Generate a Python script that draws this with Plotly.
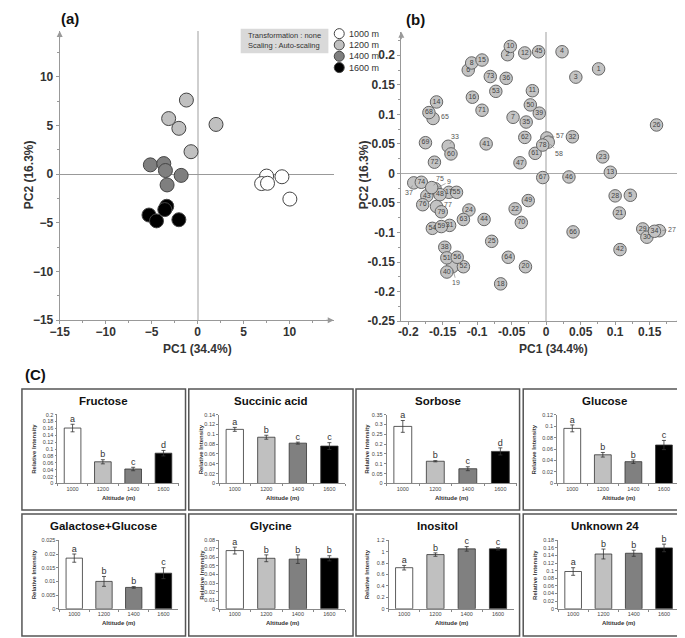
import plotly.graph_objects as go

W, H = 685, 638
FONT = "Arial, Liberation Sans, sans-serif"

# ---------------- (a) PCA score plot ----------------
groups = ["1000 m", "1200 m", "1400 m", "1600 m"]
score_pc1_1000 = [7.5, 9.17, 6.96, 7.6, 10.03]
score_pc2_1000 = [-0.2, -0.27, -0.97, -0.94, -2.56]
score_pc1_1200 = [-1.22, -3.15, -2.04, 2.0, -0.72]
score_pc2_1200 = [7.6, 5.7, 4.7, 5.1, 2.3]
score_pc1_1400 = [-5.14, -3.68, -3.5, -1.79, -3.32]
score_pc2_1400 = [0.95, 1.08, 0.37, -0.13, -1.11]
score_pc1_1600 = [-5.29, -4.47, -3.36, -3.57, -2.04]
score_pc2_1600 = [-4.2, -4.8, -3.3, -3.64, -4.68]
group_colors = ["#ffffff", "#c0c0c0", "#7f7f7f", "#000000"]

# ---------------- (b) loading plot ----------------
loading_ids = [1, 2, 3, 4, 5, 6, 7, 8, 9, 10, 11, 12, 13, 14, 15, 16, 17, 18, 19, 20,
               21, 22, 23, 24, 25, 26, 27, 28, 29, 30, 31, 32, 33, 34, 35, 36, 37, 38, 39, 40,
               41, 42, 43, 44, 45, 46, 47, 48, 49, 50, 51, 52, 53, 54, 55, 56, 57, 58, 59, 60,
               61, 62, 63, 64, 65, 66, 67, 68, 69, 70, 71, 72, 73, 74, 75, 76, 77, 78, 79]
loading_pc1 = [0.076, -0.056, 0.043, 0.023, 0.122, -0.113, -0.048, -0.108, -0.161, -0.052,
               -0.020, -0.031, 0.093, -0.159, -0.093, -0.107, -0.141, -0.066, -0.136, -0.030,
               0.106, -0.045, 0.082, -0.112, -0.079, 0.160, 0.164, 0.100, 0.140, 0.146,
               -0.140, 0.038, -0.142, 0.157, -0.029, -0.058, -0.192, -0.147, -0.010, -0.144,
               -0.087, 0.107, -0.173, -0.090, -0.011, 0.033, -0.038, -0.154, -0.026, -0.023,
               -0.144, -0.120, -0.073, -0.165, -0.130, -0.129, 0.001, 0.003, -0.152, -0.138,
               -0.016, -0.031, -0.120, -0.055, -0.164, 0.039, -0.005, -0.170, -0.175, -0.036,
               -0.093, -0.162, -0.081, -0.181, -0.166, -0.179, -0.159, -0.005, -0.152]
loading_pc2 = [0.177, 0.201, 0.163, 0.206, -0.037, 0.175, 0.095, 0.187, -0.026, 0.215,
               0.140, 0.204, 0.002, 0.121, 0.192, 0.129, -0.032, -0.187, -0.158, -0.158,
               -0.067, -0.060, 0.028, -0.062, -0.115, 0.082, -0.097, -0.038, -0.094, -0.108,
               -0.088, 0.062, 0.046, -0.098, 0.087, 0.161, -0.016, -0.125, 0.102, -0.167,
               0.050, -0.129, -0.038, -0.078, 0.206, -0.006, 0.018, -0.036, -0.046, 0.116,
               -0.143, -0.158, 0.139, -0.093, -0.032, -0.142, 0.060, 0.053, -0.090, 0.033,
               0.034, 0.061, -0.078, -0.142, 0.093, -0.099, -0.007, 0.103, 0.052, -0.083,
               0.107, 0.019, 0.164, -0.015, -0.024, -0.053, -0.056, 0.048, -0.065]
# ids whose number is written outside the marker: (id, dx px, dy px, draw leader line)
outside_labels = [(65, 12, -2, False), (33, 7, -10, True), (57, 13, -2, True),
                  (58, 11, 11, True), (27, 13, -1, True), (37, -5, 10, True),
                  (75, 8, -9, True), (9, 14, -7, True), (77, 11, -2, True), (19, 4, 16, True)]

# ---------------- (C) bar charts ----------------
altitude_labels = ["1000", "1200", "1400", "1600"]
bar_colors = ["#ffffff", "#c0c0c0", "#808080", "#000000"]
metabolites = ["Fructose", "Succinic acid", "Sorbose", "Glucose",
               "Galactose+Glucose", "Glycine", "Inositol", "Unknown 24"]
fructose_mean = [0.161, 0.063, 0.042, 0.088]
fructose_err = [0.011, 0.006, 0.005, 0.008]
fructose_letters = ["a", "b", "c", "d"]
succinic_mean = [0.110, 0.094, 0.082, 0.076]
succinic_err = [0.004, 0.004, 0.002, 0.007]
succinic_letters = ["a", "b", "c", "c"]
sorbose_mean = [0.290, 0.113, 0.075, 0.163]
sorbose_err = [0.030, 0.003, 0.010, 0.018]
sorbose_letters = ["a", "b", "c", "d"]
glucose_mean = [0.096, 0.050, 0.038, 0.067]
glucose_err = [0.006, 0.004, 0.003, 0.008]
glucose_letters = ["a", "b", "b", "c"]
galglc_mean = [0.0185, 0.0100, 0.0078, 0.0130]
galglc_err = [0.0015, 0.0018, 0.0003, 0.0020]
galglc_letters = ["a", "b", "b", "c"]
glycine_mean = [0.068, 0.059, 0.058, 0.059]
glycine_err = [0.004, 0.004, 0.005, 0.003]
glycine_letters = ["a", "b", "b", "b"]
inositol_mean = [0.72, 0.95, 1.05, 1.05]
inositol_err = [0.04, 0.03, 0.04, 0.02]
inositol_letters = ["a", "b", "c", "c"]
unknown24_mean = [0.098, 0.144, 0.146, 0.160]
unknown24_err = [0.010, 0.013, 0.008, 0.010]
unknown24_letters = ["a", "b", "b", "b"]
bar_axis_max = [0.2, 0.14, 0.35, 0.12, 0.025, 0.08, 1.2, 0.18]
bar_axis_step = [0.02, 0.02, 0.05, 0.02, 0.005, 0.01, 0.2, 0.02]

bar_means = [fructose_mean, succinic_mean, sorbose_mean, glucose_mean,
             galglc_mean, glycine_mean, inositol_mean, unknown24_mean]
bar_errs = [fructose_err, succinic_err, sorbose_err, glucose_err,
            galglc_err, glycine_err, inositol_err, unknown24_err]
bar_letters = [fructose_letters, succinic_letters, sorbose_letters, glucose_letters,
               galglc_letters, glycine_letters, inositol_letters, unknown24_letters]


def xd(l, r):
    return [l / W, r / W]


def yd(top, bottom):
    return [1 - bottom / H, 1 - top / H]


def fx(p):
    return p / W


def fy(p):
    return 1 - p / H


fig = go.Figure()
ann = []
shapes = []
AX_COL = "#999999"
TICKFONT = dict(family=FONT, size=12, color="#333333", weight="bold")


def paper_text(x, y, text, size, color="#333333", angle=0, xanchor="center"):
    ann.append(dict(x=fx(x), y=fy(y), xref="paper", yref="paper", text=text,
                    textangle=angle, showarrow=False, xanchor=xanchor, yanchor="middle",
                    font=dict(family=FONT, size=size, color=color)))


# ---- (a) traces
score_x = [score_pc1_1000, score_pc1_1200, score_pc1_1400, score_pc1_1600]
score_y = [score_pc2_1000, score_pc2_1200, score_pc2_1400, score_pc2_1600]
for g, xs, ys, c in zip(groups, score_x, score_y, group_colors):
    fig.add_trace(go.Scatter(x=xs, y=ys, mode="markers", name=g, showlegend=False,
                             marker=dict(size=14, color=c, line=dict(color="#444444", width=1)),
                             xaxis="x", yaxis="y"))

# ---- (b) traces
outside_ids = [o[0] for o in outside_labels]
inside_text = ["" if i in outside_ids else str(i) for i in loading_ids]
fig.add_trace(go.Scatter(x=loading_pc1, y=loading_pc2, mode="markers+text", text=inside_text,
                         textposition="middle center", showlegend=False,
                         textfont=dict(family=FONT, size=7, color="#444444"),
                         marker=dict(size=12.5, color="#c3c3c3", line=dict(color="#666666", width=1)),
                         xaxis="x2", yaxis="y2"))
for (lid, dx, dy, line) in outside_labels:
    k = loading_ids.index(lid)
    ann.append(dict(x=loading_pc1[k], y=loading_pc2[k], xref="x2", yref="y2", text=str(lid),
                    showarrow=line, ax=dx, ay=dy, arrowhead=0, arrowwidth=0.6,
                    arrowcolor="#777777", standoff=3, xanchor="center", yanchor="middle",
                    xshift=0 if line else dx, yshift=0 if line else -dy,
                    font=dict(family=FONT, size=7, color="#555555")))

layout_axes = {}
# (a) axes
layout_axes["xaxis"] = dict(domain=xd(42.3, 320.4), range=[-15, 14.8], anchor="y",
                            showline=True, linecolor=AX_COL, linewidth=1, showgrid=False,
                            zeroline=True, zerolinecolor="#cfcfcf", zerolinewidth=2,
                            tickvals=[-15, -10, -5, 0, 5, 10], ticks="outside", ticklen=3,
                            tickcolor=AX_COL, tickfont=TICKFONT, ticklabelstandoff=-3,
                            minor=dict(ticks="outside", ticklen=2, dtick=2.5, tickcolor=AX_COL))
layout_axes["yaxis"] = dict(domain=yd(20.2, 314.2), range=[-15, 14.7], anchor="x",
                            showline=True, linecolor=AX_COL, linewidth=1, showgrid=False,
                            zeroline=True, zerolinecolor="#999999", zerolinewidth=1,
                            tickvals=[-15, -10, -5, 0, 5, 10], ticks="outside", ticklen=3,
                            tickcolor=AX_COL, tickfont=TICKFONT,
                            minor=dict(ticks="outside", ticklen=2, dtick=2.5, tickcolor=AX_COL))
# (b) axes
layout_axes["xaxis2"] = dict(domain=xd(389, 676), range=[-0.21, 0.2], anchor="y2",
                             showline=True, linecolor=AX_COL, linewidth=1, showgrid=False,
                             zeroline=True, zerolinecolor="#cfcfcf", zerolinewidth=2,
                             tickvals=[-0.2, -0.15, -0.1, -0.05, 0, 0.05, 0.1, 0.15],
                             ticktext=["-0.2", "-0.15", "-0.1", "-0.05", "0", "0.05", "0.1", "0.15"],
                             ticks="outside", ticklen=3, tickcolor=AX_COL, tickfont=TICKFONT,
                             ticklabelstandoff=-3,
                             minor=dict(ticks="outside", ticklen=2, dtick=0.025, tickcolor=AX_COL))
layout_axes["yaxis2"] = dict(domain=yd(21, 315), range=[-0.25, 0.24], anchor="x2",
                             showline=True, linecolor=AX_COL, linewidth=1, showgrid=False,
                             zeroline=True, zerolinecolor="#aaaaaa", zerolinewidth=1,
                             tickvals=[-0.25, -0.2, -0.15, -0.1, -0.05, 0, 0.05, 0.1, 0.15, 0.2],
                             ticktext=["-0.25", "-0.2", "-0.15", "-0.1", "-0.05", "0", "0.05", "0.1", "0.15", "0.2"],
                             ticks="outside", ticklen=3, tickcolor=AX_COL, tickfont=TICKFONT,
                             minor=dict(ticks="outside", ticklen=2, dtick=0.025, tickcolor=AX_COL))

# axis arrows
for xr, yr, xe, ye, axp, ayp in [("x", "y", 14.8, -15, -9, 0), ("x", "y", -15, 14.7, 0, 9),
                                 ("x2", "y2", 0.2, -0.25, -9, 0), ("x2", "y2", -0.21, 0.24, 0, 9)]:
    ann.append(dict(x=xe, y=ye, xref=xr, yref=yr, text="", showarrow=True, ax=axp, ay=ayp,
                    arrowhead=2, arrowsize=1.2, arrowwidth=1, arrowcolor=AX_COL))

# axis titles & panel labels
paper_text(12, 166, "<b>PC2 (16.3%)</b>", 12, angle=-90)
paper_text(352, 166, "<b>PC2 (16.3%)</b>", 12, angle=-90)
paper_text(182, 343, "<b>PC1 (34.4%)</b>", 12)
paper_text(543, 343, "<b>PC1 (34.4%)</b>", 12)
for t, px_, py_ in [("(a)", 53, 8), ("(b)", 403, 9), ("(C)", 18, 369)]:
    paper_text(px_, py_, "<b>%s</b>" % t, 15, color="#111111")

# (a) info box & legend
shapes.append(dict(type="rect", xref="paper", yref="paper", x0=fx(226), x1=fx(315),
                   y0=fy(43), y1=fy(18), fillcolor="#d9d9d9", line=dict(width=0), layer="below"))
paper_text(231, 25, "Transformation : none", 7.5, xanchor="left")
paper_text(231, 35.5, "Scaling : Auto-scaling", 7.5, xanchor="left")
for g, c, yy in zip(groups, group_colors, [23, 34.5, 46, 57.5]):
    shapes.append(dict(type="circle", xref="paper", yref="paper", xsizemode="pixel",
                       ysizemode="pixel", xanchor=fx(326), yanchor=fy(yy), x0=-5, x1=5, y0=-5, y1=5,
                       fillcolor=c, line=dict(color="#444444", width=1)))
    paper_text(334, yy, g, 9, xanchor="left")

# ---- (C) bar panels
box_x = [(4, 170), (173.3, 340), (343, 509), (512.7, 678)]
box_y = [(384, 507), (511, 635)]
plot_x = [(40, 163), (204, 332), (374, 506), (547, 671),
          (42, 162.7), (204, 332), (376, 503), (548, 671)]
plot_y = [(410, 480), (537.7, 607.3)]
ri_x = [16, 186, 354, 524]
title_y = [396, 523]
alt_y = [495, 621.7]

for p in range(8):
    row, col = p // 4, p % 4
    n = p + 3
    xa, ya = "x%d" % n, "y%d" % n
    means, errs, lets = bar_means[p], bar_errs[p], bar_letters[p]
    fig.add_trace(go.Bar(x=altitude_labels, y=means, width=0.55, showlegend=False,
                         marker=dict(color=bar_colors, line=dict(color="#333333", width=0.8)),
                         error_y=dict(type="data", array=errs, color="#333333", thickness=0.8, width=2),
                         xaxis=xa, yaxis=ya))
    tops = [m + e for m, e in zip(means, errs)]
    fig.add_trace(go.Scatter(x=altitude_labels, y=tops, mode="text", text=lets,
                             textposition="top center", showlegend=False, cliponaxis=False,
                             textfont=dict(family=FONT, size=9, color="#333333"),
                             xaxis=xa, yaxis=ya))
    l, r = plot_x[p]
    t, b = plot_y[row]
    layout_axes["xaxis%d" % n] = dict(domain=xd(l, r), anchor=ya, type="category",
                                      range=[-0.5, 3.5], showline=True, linecolor="#888888",
                                      linewidth=0.8, showgrid=False, zeroline=False,
                                      ticks="outside", ticklen=2, tickson="boundaries",
                                      tickcolor="#888888",
                                      tickfont=dict(family=FONT, size=5.5, color="#444444"))
    layout_axes["yaxis%d" % n] = dict(domain=yd(t, b), anchor=xa,
                                      range=[0, bar_axis_max[p] * 1.0005],
                                      dtick=bar_axis_step[p], tick0=0, showline=True,
                                      linecolor="#888888", linewidth=0.8, showgrid=False,
                                      zeroline=False, ticks="outside", ticklen=2,
                                      tickcolor="#888888",
                                      tickfont=dict(family=FONT, size=5.5, color="#444444"))
    bl, br = box_x[col]
    bt, bb = box_y[row]
    shapes.append(dict(type="rect", xref="paper", yref="paper", x0=fx(bl), x1=fx(br),
                       y0=fy(bb), y1=fy(bt), line=dict(color="#555555", width=1.5)))
    paper_text((bl + br) / 2, title_y[row], "<b>%s</b>" % metabolites[p], 11.5, color="#111111")
    paper_text(ri_x[col], (t + b) / 2, "<b>Relative Intensity</b>", 6, angle=-90)
    paper_text((l + r) / 2, alt_y[row], "<b>Altitude (m)</b>", 6)

fig.update_layout(width=W, height=H, margin=dict(l=0, r=0, t=0, b=0),
                  paper_bgcolor="white", plot_bgcolor="rgba(0,0,0,0)",
                  font=dict(family=FONT), annotations=ann, shapes=shapes,
                  showlegend=False, bargap=0.45, **layout_axes)

fig.write_html("out.html")
